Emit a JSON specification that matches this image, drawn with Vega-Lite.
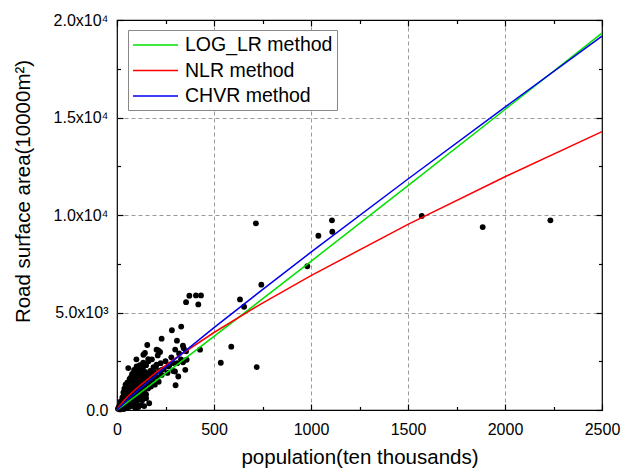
{
  "$schema": "https://vega.github.io/schema/vega-lite/v6.json",
  "width": 485,
  "height": 390,
  "autosize": "none",
  "padding": {"left": 117, "top": 20, "right": 19, "bottom": 58},
  "background": "white",
  "config": {
    "font": "Arial",
    "view": {"stroke": "black", "strokeWidth": 1.2},
    "axis": {"domain": false, "ticks": true, "labelColor": "black", "titleColor": "black", "labelFont": "Arial", "titleFont": "Arial", "titleFontWeight": "normal", "labelFontSize": 16, "titleFontSize": 20.5, "tickColor": "black", "tickWidth": 1.2, "gridColor": "#9a9a9a", "gridDash": [4, 3], "gridWidth": 1}
  },
  "datasets": {
    "pts": [
      {"pop": 716, "area": 9573}, {"pop": 744, "area": 6428}, {"pop": 634, "area": 5670}, {"pop": 655, "area": 5294},
      {"pop": 720, "area": 2201}, {"pop": 981, "area": 7372}, {"pop": 1038, "area": 8934}, {"pop": 1108, "area": 9727},
      {"pop": 1110, "area": 9140}, {"pop": 1571, "area": 9949}, {"pop": 1885, "area": 9382}, {"pop": 2234, "area": 9727},
      {"pop": 356, "area": 5532}, {"pop": 373, "area": 5860}, {"pop": 407, "area": 5877}, {"pop": 433, "area": 5877},
      {"pop": 419, "area": 5413}, {"pop": 331, "area": 4279}, {"pop": 283, "area": 4089}, {"pop": 309, "area": 3557},
      {"pop": 230, "area": 3660}, {"pop": 156, "area": 3333}, {"pop": 204, "area": 3093}, {"pop": 344, "area": 3162},
      {"pop": 589, "area": 3247}, {"pop": 428, "area": 3093}, {"pop": 535, "area": 2423},
      {"pop": 356, "area": 3007}, {"pop": 359, "area": 2578}, {"pop": 316, "area": 1718}, {"pop": 302, "area": 1271},
      {"pop": 352, "area": 2062}, {"pop": 230, "area": 2062}, {"pop": 204, "area": 2320}, {"pop": 135, "area": 2423},
      {"pop": 58, "area": 2150}, {"pop": 101, "area": 2232}, {"pop": 161, "area": 2612}, {"pop": 144, "area": 2922},
      {"pop": 213, "area": 3058}, {"pop": 265, "area": 2232}, {"pop": 290, "area": 2405}, {"pop": 299, "area": 1976},
      {"pop": 222, "area": 2974}, {"pop": 136, "area": 2835}, {"pop": 170, "area": 1376}, {"pop": 250, "area": 2500},
      {"pop": 280, "area": 2700}, {"pop": 320, "area": 2900}, {"pop": 340, "area": 2450},
      {"pop": 5, "area": 60}, {"pop": 8, "area": 120}, {"pop": 10, "area": 80}, {"pop": 12, "area": 200},
      {"pop": 15, "area": 150}, {"pop": 18, "area": 300}, {"pop": 20, "area": 180}, {"pop": 22, "area": 250},
      {"pop": 25, "area": 400}, {"pop": 28, "area": 320}, {"pop": 30, "area": 220}, {"pop": 30, "area": 500},
      {"pop": 32, "area": 380}, {"pop": 35, "area": 450}, {"pop": 38, "area": 300}, {"pop": 40, "area": 600},
      {"pop": 40, "area": 250}, {"pop": 42, "area": 520}, {"pop": 45, "area": 700}, {"pop": 45, "area": 400},
      {"pop": 48, "area": 350}, {"pop": 50, "area": 800}, {"pop": 50, "area": 550}, {"pop": 52, "area": 650},
      {"pop": 55, "area": 450}, {"pop": 55, "area": 1000}, {"pop": 58, "area": 750}, {"pop": 60, "area": 600},
      {"pop": 60, "area": 900}, {"pop": 62, "area": 400}, {"pop": 65, "area": 1100}, {"pop": 65, "area": 700},
      {"pop": 68, "area": 850}, {"pop": 70, "area": 550}, {"pop": 70, "area": 1300}, {"pop": 72, "area": 1000},
      {"pop": 75, "area": 800}, {"pop": 75, "area": 1500}, {"pop": 78, "area": 650}, {"pop": 80, "area": 1200},
      {"pop": 80, "area": 950}, {"pop": 82, "area": 1400}, {"pop": 85, "area": 750}, {"pop": 85, "area": 1700},
      {"pop": 88, "area": 1100}, {"pop": 90, "area": 900}, {"pop": 90, "area": 1500}, {"pop": 92, "area": 1300},
      {"pop": 95, "area": 1000}, {"pop": 95, "area": 1800}, {"pop": 98, "area": 700}, {"pop": 100, "area": 1200},
      {"pop": 100, "area": 1600}, {"pop": 102, "area": 1400}, {"pop": 105, "area": 900}, {"pop": 105, "area": 2000},
      {"pop": 108, "area": 1100}, {"pop": 110, "area": 1500}, {"pop": 110, "area": 1700}, {"pop": 112, "area": 1300},
      {"pop": 115, "area": 800}, {"pop": 115, "area": 1900}, {"pop": 118, "area": 1000}, {"pop": 120, "area": 1600},
      {"pop": 120, "area": 1250}, {"pop": 122, "area": 2100}, {"pop": 125, "area": 1400}, {"pop": 128, "area": 900},
      {"pop": 130, "area": 1800}, {"pop": 130, "area": 1100}, {"pop": 132, "area": 1500}, {"pop": 135, "area": 2200},
      {"pop": 138, "area": 1300}, {"pop": 140, "area": 1000}, {"pop": 140, "area": 1700}, {"pop": 145, "area": 1200},
      {"pop": 145, "area": 1950}, {"pop": 148, "area": 1500}, {"pop": 150, "area": 800}, {"pop": 150, "area": 2300},
      {"pop": 155, "area": 1400}, {"pop": 158, "area": 1800}, {"pop": 160, "area": 1100}, {"pop": 162, "area": 2500},
      {"pop": 165, "area": 1600}, {"pop": 172, "area": 2000}, {"pop": 175, "area": 1200}, {"pop": 178, "area": 1700},
      {"pop": 180, "area": 2600}, {"pop": 185, "area": 1500}, {"pop": 190, "area": 1900}, {"pop": 195, "area": 1300},
      {"pop": 200, "area": 2200}, {"pop": 205, "area": 1700}, {"pop": 210, "area": 2800}, {"pop": 215, "area": 1450},
      {"pop": 220, "area": 2000}, {"pop": 225, "area": 2400}, {"pop": 230, "area": 1800}, {"pop": 240, "area": 2100},
      {"pop": 260, "area": 1900}, {"pop": 270, "area": 2300}, {"pop": 290, "area": 2000}, {"pop": 310, "area": 2400},
      {"pop": 300, "area": 3100}, {"pop": 330, "area": 2600}, {"pop": 340, "area": 3300},
      {"pop": 110, "area": 150}, {"pop": 125, "area": 250}, {"pop": 140, "area": 200}, {"pop": 166, "area": 345},
      {"pop": 95, "area": 100}, {"pop": 80, "area": 300}, {"pop": 130, "area": 500}, {"pop": 150, "area": 600},
      {"pop": 120, "area": 700}, {"pop": 105, "area": 500}, {"pop": 90, "area": 400}, {"pop": 70, "area": 200},
      {"pop": 60, "area": 150}, {"pop": 45, "area": 100}, {"pop": 35, "area": 50}, {"pop": 25, "area": 80}, {"pop": 15, "area": 30},
      {"pop": 65, "area": 1600}, {"pop": 78, "area": 1850}, {"pop": 88, "area": 2050}, {"pop": 118, "area": 2300},
      {"pop": 40, "area": 900}, {"pop": 50, "area": 1200}, {"pop": 35, "area": 750}, {"pop": 100, "area": 2600},
      {"pop": 20, "area": 450}, {"pop": 28, "area": 650}, {"pop": 33, "area": 900}, {"pop": 38, "area": 1100},
      {"pop": 44, "area": 1300}, {"pop": 48, "area": 1000}, {"pop": 53, "area": 1400}, {"pop": 57, "area": 1250},
      {"pop": 62, "area": 1450}, {"pop": 67, "area": 1350}, {"pop": 73, "area": 1700}, {"pop": 77, "area": 1100},
      {"pop": 83, "area": 1550}, {"pop": 87, "area": 1250}, {"pop": 93, "area": 1650}, {"pop": 97, "area": 1450},
      {"pop": 103, "area": 1800}, {"pop": 107, "area": 1300}, {"pop": 113, "area": 1600}, {"pop": 117, "area": 1450},
      {"pop": 123, "area": 1750}, {"pop": 127, "area": 1200}, {"pop": 133, "area": 1950}, {"pop": 137, "area": 1600},
      {"pop": 143, "area": 1400}, {"pop": 153, "area": 1650}, {"pop": 157, "area": 1250}, {"pop": 168, "area": 1900},
      {"pop": 173, "area": 1500}, {"pop": 183, "area": 1800}, {"pop": 188, "area": 2200}, {"pop": 198, "area": 1900},
      {"pop": 62, "area": 300}, {"pop": 72, "area": 400}, {"pop": 82, "area": 550}, {"pop": 92, "area": 650},
      {"pop": 102, "area": 750}, {"pop": 112, "area": 600}, {"pop": 122, "area": 850}, {"pop": 135, "area": 700},
      {"pop": 52, "area": 250}, {"pop": 42, "area": 200}, {"pop": 85, "area": 200}, {"pop": 100, "area": 350}
    ],
    "fits": [
      {"method": "LOG_LR method", "pop": 0, "area": 0}, {"method": "LOG_LR method", "pop": 10, "area": 71},
      {"method": "LOG_LR method", "pop": 50, "area": 364}, {"method": "LOG_LR method", "pop": 100, "area": 736},
      {"method": "LOG_LR method", "pop": 200, "area": 1489}, {"method": "LOG_LR method", "pop": 300, "area": 2248},
      {"method": "LOG_LR method", "pop": 500, "area": 3775}, {"method": "LOG_LR method", "pop": 750, "area": 5695},
      {"method": "LOG_LR method", "pop": 1000, "area": 7624}, {"method": "LOG_LR method", "pop": 1500, "area": 11507},
      {"method": "LOG_LR method", "pop": 2000, "area": 15411}, {"method": "LOG_LR method", "pop": 2500, "area": 19330},
      {"method": "NLR method", "pop": 0, "area": 0}, {"method": "NLR method", "pop": 10, "area": 177},
      {"method": "NLR method", "pop": 50, "area": 637}, {"method": "NLR method", "pop": 100, "area": 1105},
      {"method": "NLR method", "pop": 200, "area": 1918}, {"method": "NLR method", "pop": 300, "area": 2648},
      {"method": "NLR method", "pop": 500, "area": 3974}, {"method": "NLR method", "pop": 750, "area": 5486},
      {"method": "NLR method", "pop": 1000, "area": 6895}, {"method": "NLR method", "pop": 1500, "area": 9517},
      {"method": "NLR method", "pop": 2000, "area": 11961}, {"method": "NLR method", "pop": 2500, "area": 14278},
      {"method": "CHVR method", "pop": 0, "area": 0}, {"method": "CHVR method", "pop": 10, "area": 107},
      {"method": "CHVR method", "pop": 50, "area": 484}, {"method": "CHVR method", "pop": 100, "area": 930},
      {"method": "CHVR method", "pop": 200, "area": 1782}, {"method": "CHVR method", "pop": 300, "area": 2611},
      {"method": "CHVR method", "pop": 500, "area": 4222}, {"method": "CHVR method", "pop": 750, "area": 6174},
      {"method": "CHVR method", "pop": 1000, "area": 8094}, {"method": "CHVR method", "pop": 1500, "area": 11846},
      {"method": "CHVR method", "pop": 2000, "area": 15533}, {"method": "CHVR method", "pop": 2500, "area": 19175}
    ]
  },
  "resolve": {"axis": {"x": "independent", "y": "independent"}},
  "layer": [
    {
      "data": {"name": "pts"},
      "mark": {"type": "circle", "size": 34, "opacity": 1, "color": "black"},
      "encoding": {
        "x": {"field": "pop", "type": "quantitative", "scale": {"domain": [0, 2500], "nice": false},
          "axis": {"orient": "bottom", "title": "population(ten thousands)", "titlePadding": 10,
            "values": [0, 500, 1000, 1500, 2000, 2500], "format": "d", "offset": -6,
            "labelPadding": 11, "labelFlush": false, "tickSize": 6,
            "gridOpacity": {"condition": {"test": "datum.value > 0 && datum.value < 2500", "value": 1}, "value": 0}}},
        "y": {"field": "area", "type": "quantitative", "scale": {"domain": [0, 20000], "nice": false},
          "axis": {"orient": "left", "title": "Road surface area(10000m²)", "titleFontSize": 20.5, "titlePadding": 20, "titleY": 171,
            "values": [0, 5000, 10000, 15000, 20000], "offset": -6,
            "labelExpr": "datum.value === 0 ? '0.0' : datum.value < 10000 ? format(datum.value / 1000, '.1f') + 'x10³' : format(datum.value / 10000, '.1f') + 'x10⁴'",
            "labelPadding": 9, "labelFlush": false, "tickSize": 6,
            "gridOpacity": {"condition": {"test": "datum.value > 0 && datum.value < 20000", "value": 1}, "value": 0}}}
      }
    },
    {
      "data": {"name": "fits"},
      "mark": {"type": "line", "strokeWidth": 1.5},
      "encoding": {
        "x": {"field": "pop", "type": "quantitative", "axis": null},
        "y": {"field": "area", "type": "quantitative", "axis": null},
        "color": {"field": "method", "type": "nominal",
          "scale": {"domain": ["LOG_LR method", "NLR method", "CHVR method"], "range": ["#00e000", "#ff0000", "#0000ee"]},
          "legend": {"title": null, "orient": "none", "legendX": 11, "legendY": 10, "direction": "vertical",
            "symbolType": "M-1,0H3.5", "symbolSize": 400, "symbolStrokeWidth": 1.5, "labelFontSize": 19.5, "labelFont": "Arial",
            "labelColor": "black", "strokeColor": "#888888", "padding": 4, "rowPadding": 4.5, "labelOffset": 31, "fillColor": "white"}}
      }
    },
    {
      "data": {"name": "fits"},
      "mark": {"type": "point", "opacity": 0},
      "encoding": {
        "x": {"field": "pop", "type": "quantitative",
          "axis": {"orient": "bottom", "title": null, "labels": false, "grid": false, "offset": -3.5,
            "values": [250, 750, 1250, 1750, 2250], "tickSize": 3.5}},
        "y": {"field": "area", "type": "quantitative",
          "axis": {"orient": "left", "title": null, "labels": false, "grid": false, "offset": -3.5,
            "values": [2500, 7500, 12500, 17500], "tickSize": 3.5}}
      }
    },
    {
      "data": {"name": "fits"},
      "mark": {"type": "point", "opacity": 0},
      "encoding": {
        "x": {"field": "pop", "type": "quantitative",
          "axis": {"orient": "top", "title": null, "labels": false, "grid": false, "offset": -6,
            "values": [0, 500, 1000, 1500, 2000, 2500], "tickSize": 6}},
        "y": {"field": "area", "type": "quantitative",
          "axis": {"orient": "right", "title": null, "labels": false, "grid": false, "offset": -6,
            "values": [0, 5000, 10000, 15000, 20000], "tickSize": 6}}
      }
    },
    {
      "data": {"name": "fits"},
      "mark": {"type": "point", "opacity": 0},
      "encoding": {
        "x": {"field": "pop", "type": "quantitative",
          "axis": {"orient": "top", "title": null, "labels": false, "grid": false, "offset": -3.5,
            "values": [250, 750, 1250, 1750, 2250], "tickSize": 3.5}},
        "y": {"field": "area", "type": "quantitative",
          "axis": {"orient": "right", "title": null, "labels": false, "grid": false, "offset": -3.5,
            "values": [2500, 7500, 12500, 17500], "tickSize": 3.5}}
      }
    }
  ]
}
